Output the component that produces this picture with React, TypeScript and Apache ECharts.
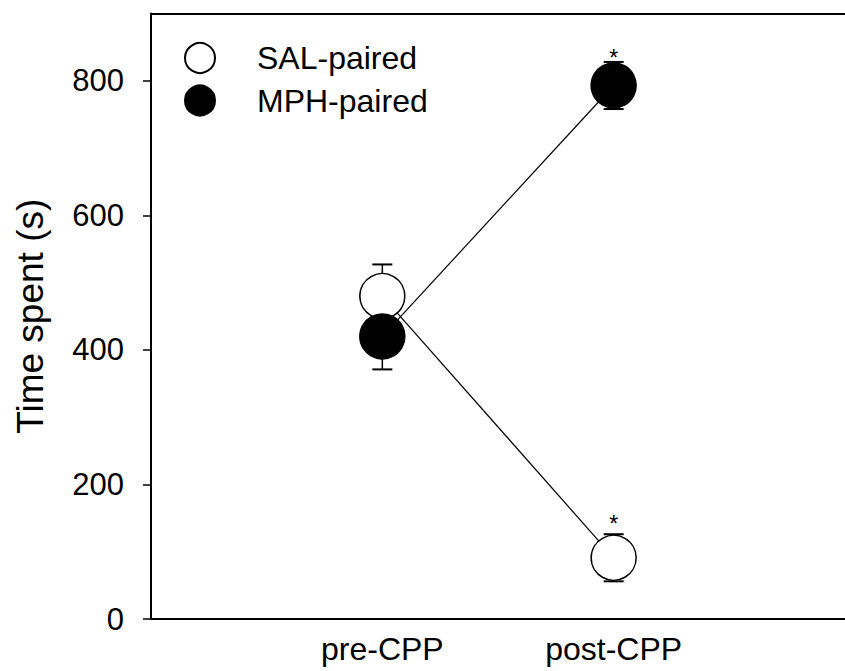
import React, { useEffect, useRef } from 'react';
import * as echarts from 'echarts';

const categories = ['pre-CPP', 'post-CPP'];
const xPositions = [1, 2];
const seriesNames = ['SAL-paired', 'MPH-paired'];
const salMeans = [480, 91];
const salErrors = [47, 35];
const mphMeans = [420, 793];
const mphErrors = [49, 35];
const yTicks = [0, 200, 400, 600, 800];
// asterisk heights at post-CPP (MPH, SAL)
const asteriskValues = [842, 148];

const FONT = '"Liberation Sans", Arial, Helvetica, sans-serif';

export default function App() {
  const ref = useRef<HTMLDivElement>(null);

  useEffect(() => {
    const chart = echarts.init(ref.current!, null, { renderer: 'svg' });

    const errData = (means: number[], errs: number[]) =>
      means.map((m, i) => [xPositions[i], m - errs[i], m + errs[i]]);

    const errRender = (_params: any, api: any) => {
      const x = api.value(0);
      const pLo = api.coord([x, api.value(1)]);
      const pHi = api.coord([x, api.value(2)]);
      const hw = 10;
      const capStyle = { stroke: '#000', lineWidth: 2, fill: 'none' };
      return {
        type: 'group',
        children: [
          { type: 'line', shape: { x1: pLo[0], y1: pLo[1], x2: pHi[0], y2: pHi[1] }, style: { stroke: '#000', lineWidth: 1.5 } },
          { type: 'line', shape: { x1: pLo[0] - hw, y1: pLo[1], x2: pLo[0] + hw, y2: pLo[1] }, style: capStyle },
          { type: 'line', shape: { x1: pHi[0] - hw, y1: pHi[1], x2: pHi[0] + hw, y2: pHi[1] }, style: capStyle },
        ],
      };
    };

    const astRender = (_params: any, api: any) => {
      const p = api.coord([api.value(0), api.value(1)]);
      return {
        type: 'text',
        x: p[0],
        y: p[1] + 5,
        style: { text: '*', fontSize: 23, fill: '#000', align: 'center', verticalAlign: 'middle', fontFamily: FONT },
      };
    };

    const lineData = (means: number[]) => means.map((m, i) => [xPositions[i], m]);

    const option: any = {
      animation: false,
      textStyle: { fontFamily: FONT, color: '#000' },
      grid: { left: 151, top: 13.5, width: 702, bottom: 52, containLabel: false },
      legend: {
        data: seriesNames.map((n) => ({ name: n, icon: 'circle' })),
        orient: 'vertical',
        left: 179,
        top: 37,
        itemWidth: 104,
        itemHeight: 30,
        itemGap: 10.5,
        selectedMode: false,
        textStyle: { fontSize: 32, color: '#000', fontFamily: FONT, lineHeight: 30 },
      },
      xAxis: [
        {
          type: 'value',
          min: 0,
          max: 3,
          position: 'bottom',
          axisLine: { show: true, onZero: false, lineStyle: { color: '#000', width: 2 } },
          axisTick: { show: false },
          splitLine: { show: false },
          axisLabel: {
            customValues: xPositions,
            formatter: (v: number) => categories[xPositions.indexOf(v)] ?? '',
            fontSize: 32,
            color: '#000',
            margin: 14,
            fontFamily: FONT,
          },
        },
        {
          type: 'value',
          min: 0,
          max: 3,
          position: 'top',
          axisLine: { show: true, onZero: false, lineStyle: { color: '#000', width: 2 } },
          axisTick: { show: false },
          axisLabel: { show: false },
          splitLine: { show: false },
        },
      ],
      yAxis: {
        type: 'value',
        min: 0,
        max: 900,
        name: 'Time spent (s)',
        nameLocation: 'middle',
        nameGap: 102,
        nameTextStyle: { fontSize: 37, color: '#000', fontFamily: FONT },
        axisLine: { show: true, onZero: false, lineStyle: { color: '#000', width: 2 } },
        axisTick: { show: true, inside: false, length: 8, customValues: yTicks, lineStyle: { color: '#000', width: 1.5 } },
        axisLabel: { customValues: yTicks, fontSize: 31, color: '#000', margin: 27, fontFamily: FONT },
        splitLine: { show: false },
      },
      series: [
        {
          name: 'SAL-line',
          type: 'line',
          z: 1,
          data: lineData(salMeans),
          symbol: 'none',
          lineStyle: { color: '#000', width: 1.2 },
          silent: true,
        },
        {
          name: 'MPH-line',
          type: 'line',
          z: 1,
          data: lineData(mphMeans),
          symbol: 'none',
          lineStyle: { color: '#000', width: 1.2 },
          silent: true,
        },
        {
          name: 'SAL-err',
          type: 'custom',
          z: 2,
          data: errData(salMeans, salErrors),
          renderItem: errRender,
          encode: { x: 0, y: [1, 2] },
          silent: true,
        },
        {
          name: seriesNames[0],
          type: 'scatter',
          z: 2,
          data: lineData(salMeans),
          symbol: 'circle',
          symbolSize: 45,
          itemStyle: { color: '#fff', borderColor: '#000', borderWidth: 1.5, opacity: 1 },
          silent: true,
        },
        {
          name: 'MPH-err',
          type: 'custom',
          z: 2,
          data: errData(mphMeans, mphErrors),
          renderItem: errRender,
          encode: { x: 0, y: [1, 2] },
          silent: true,
        },
        {
          name: seriesNames[1],
          type: 'scatter',
          z: 2,
          data: lineData(mphMeans),
          symbol: 'circle',
          symbolSize: 45,
          itemStyle: { color: '#000', borderColor: '#000', borderWidth: 1.5, opacity: 1 },
          silent: true,
        },
        {
          name: 'asterisks',
          type: 'custom',
          z: 2,
          data: asteriskValues.map((v) => [xPositions[1], v]),
          renderItem: astRender,
          encode: { x: 0, y: 1 },
          silent: true,
        },
      ],
    };

    chart.setOption(option);
    return () => chart.dispose();
  }, []);

  return <div ref={ref} style={{ position: 'absolute', left: 0, top: 0, width: 845, height: 671 }} />;
}
